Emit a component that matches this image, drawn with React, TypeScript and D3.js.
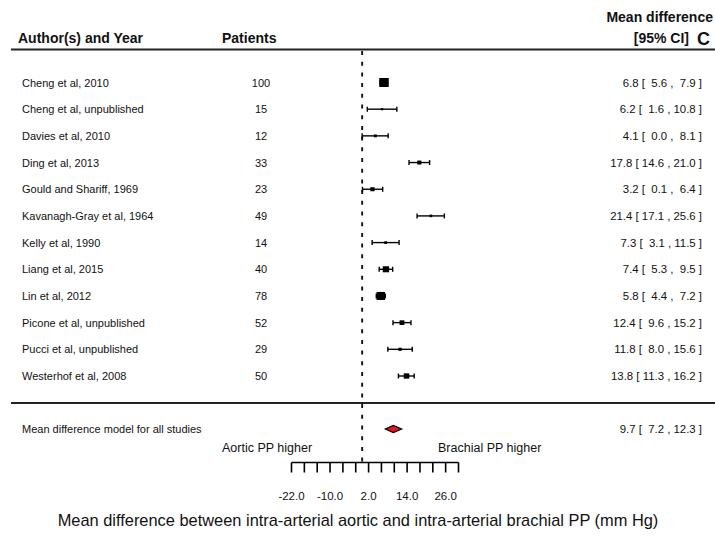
import React from "react";
import * as d3 from "d3";

// Study-level data
const studies = [
  "Cheng et al, 2010",
  "Cheng et al, unpublished",
  "Davies et al, 2010",
  "Ding et al, 2013",
  "Gould and Shariff, 1969",
  "Kavanagh-Gray et al, 1964",
  "Kelly et al, 1990",
  "Liang et al, 2015",
  "Lin et al, 2012",
  "Picone et al, unpublished",
  "Pucci et al, unpublished",
  "Westerhof et al, 2008",
];
const patients = [100, 15, 12, 33, 23, 49, 14, 40, 78, 52, 29, 50];
const meanDiff = [6.8, 6.2, 4.1, 17.8, 3.2, 21.4, 7.3, 7.4, 5.8, 12.4, 11.8, 13.8];
const ciLower = [5.6, 1.6, 0.0, 14.6, 0.1, 17.1, 3.1, 5.3, 4.4, 9.6, 8.0, 11.3];
const ciUpper = [7.9, 10.8, 8.1, 21.0, 6.4, 25.6, 11.5, 9.5, 7.2, 15.2, 15.6, 16.2];

// Pooled model estimate
const pooledLabel = "Mean difference model for all studies";
const pooledMean = 9.7;
const pooledLower = 7.2;
const pooledUpper = 12.3;

// Axis
const axisDomain = [-22, 30];
const tickValues = [-22, -18, -14, -10, -6, -2, 2, 6, 10, 14, 18, 22, 26, 30];
const tickLabels = [-22, -10, 2, 14, 26];

const W = 715;
const H = 536;
const FONT = "'Liberation Sans', Arial, Helvetica, sans-serif";

const pad = (v: number) => v.toFixed(1).padStart(4, " ");
const ciText = (m: number, lo: number, hi: number) =>
  `${m.toFixed(1)} [ ${pad(lo)} , ${pad(hi)} ]`;

export default function App() {
  const x = d3.scaleLinear().domain(axisDomain).range([291.5, 458.5]);
  const y = d3.scaleLinear().domain([0, studies.length - 1]).range([82.5, 376]);

  // marker size grows with precision (inverse CI width)
  const precision = ciLower.map((lo, i) => 1 / (ciUpper[i] - lo));
  const size = d3
    .scaleLog()
    .domain([d3.min(precision)!, d3.max(precision)!])
    .range([2.2, 9]);

  const yPooled = 429;
  const yAxis = 462.5;
  const x0 = x(0);

  const diamond = d3.line<[number, number]>()([
    [x(pooledLower), yPooled],
    [x(pooledMean), yPooled - 3.6],
    [x(pooledUpper), yPooled],
    [x(pooledMean), yPooled + 3.6],
  ]) + "Z";

  return (
    <svg
      width={W}
      height={H}
      style={{ position: "absolute", left: 0, top: 0, background: "#fff" }}
      fontFamily={FONT}
    >
      {/* headers */}
      <g fill="#111" fontWeight="bold" fontSize={14}>
        <text x={18} y={43}>Author(s) and Year</text>
        <text x={222} y={43}>Patients</text>
        <text x={713} y={22} textAnchor="end">Mean difference</text>
        <text x={689} y={43} textAnchor="end">[95% CI]</text>
        <text x={697} y={45} fontSize={18}>C</text>
      </g>

      {/* separators */}
      <line x1={11} x2={W} y1={49.5} y2={49.5} stroke="#222" strokeWidth={2} />
      <line x1={11} x2={W} y1={403} y2={403} stroke="#222" strokeWidth={2} />

      {/* zero reference line */}
      <line
        x1={x0}
        x2={x0}
        y1={51}
        y2={yAxis}
        stroke="#111"
        strokeWidth={1.9}
        strokeDasharray="4 6.7"
      />

      {/* study rows */}
      {studies.map((s, i) => {
        const cy = y(i);
        const sz = size(precision[i]);
        return (
          <g key={s}>
            <text x={22} y={cy + 4} fontSize={11} fill="#111">{s}</text>
            <text x={261} y={cy + 4} fontSize={11} fill="#111" textAnchor="middle">
              {patients[i]}
            </text>
            <text
              x={702}
              y={cy + 4}
              fontSize={11.4}
              fill="#111"
              textAnchor="end"
              style={{ whiteSpace: "pre" }}
            >
              {ciText(meanDiff[i], ciLower[i], ciUpper[i])}
            </text>
            <line x1={x(ciLower[i])} x2={x(ciUpper[i])} y1={cy} y2={cy} stroke="#000" strokeWidth={1.4} />
            <line x1={x(ciLower[i])} x2={x(ciLower[i])} y1={cy - 2.5} y2={cy + 2.5} stroke="#000" strokeWidth={1.4} />
            <line x1={x(ciUpper[i])} x2={x(ciUpper[i])} y1={cy - 2.5} y2={cy + 2.5} stroke="#000" strokeWidth={1.4} />
            <rect
              x={x(meanDiff[i]) - (sz * 1.05) / 2}
              y={cy - sz / 2}
              width={sz * 1.05}
              height={sz}
              fill="#000"
            />
          </g>
        );
      })}

      {/* pooled estimate */}
      <text x={22} y={yPooled + 4} fontSize={11} fill="#111">{pooledLabel}</text>
      <text
        x={702}
        y={yPooled + 4}
        fontSize={11.4}
        fill="#111"
        textAnchor="end"
        style={{ whiteSpace: "pre" }}
      >
        {ciText(pooledMean, pooledLower, pooledUpper)}
      </text>
      <path d={diamond} fill="#e8141b" stroke="#000" strokeWidth={1.2} />

      {/* direction labels */}
      <text x={222} y={452} fontSize={12.5} fill="#111">Aortic PP higher</text>
      <text x={438} y={452} fontSize={12.5} fill="#111">Brachial PP higher</text>

      {/* x axis */}
      <line x1={x(axisDomain[0])} x2={x(axisDomain[1])} y1={yAxis} y2={yAxis} stroke="#000" strokeWidth={1.6} />
      {tickValues.map((t) => (
        <line key={t} x1={x(t)} x2={x(t)} y1={yAxis} y2={yAxis + 10} stroke="#000" strokeWidth={1.6} />
      ))}
      {tickLabels.map((t) => (
        <text key={t} x={x(t)} y={500} fontSize={11.5} fill="#111" textAnchor="middle">
          {t.toFixed(1)}
        </text>
      ))}

      {/* axis title */}
      <text x={358} y={526} fontSize={16.4} fill="#111" textAnchor="middle">
        Mean difference between intra-arterial aortic and intra-arterial brachial PP (mm Hg)
      </text>
    </svg>
  );
}
